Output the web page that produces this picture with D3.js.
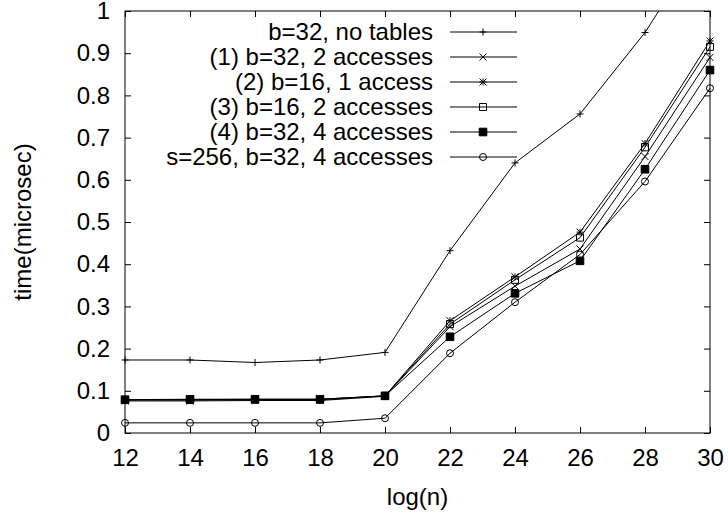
<!DOCTYPE html>
<html>
<head>
<meta charset="utf-8">
<script src="https://cdn.jsdelivr.net/npm/d3@7"></script>
<style>
  body { margin: 0; background: #fff; }
  svg text { font-family: "Liberation Sans", Arial, Helvetica, sans-serif; fill: #000; }
</style>
</head>
<body>
<svg id="chart" width="728" height="517"></svg>
<script>
// log(n) values on the x axis
const logN = [12, 14, 16, 18, 20, 22, 24, 26, 28, 30];

// time in microseconds, one array per curve
const noTables   = [0.173, 0.173, 0.167, 0.173, 0.191, 0.432, 0.640, 0.756, 0.949, 1.19];
const b32acc2    = [0.076, 0.076, 0.077, 0.077, 0.087, 0.252, 0.348, 0.436, 0.655, 0.890];
const b16acc1    = [0.079, 0.079, 0.080, 0.080, 0.088, 0.266, 0.370, 0.476, 0.686, 0.929];
const b16acc2    = [0.078, 0.078, 0.079, 0.079, 0.088, 0.258, 0.363, 0.463, 0.677, 0.915];
const b32acc4    = [0.079, 0.080, 0.080, 0.080, 0.088, 0.228, 0.331, 0.408, 0.625, 0.860];
const s256acc4   = [0.024, 0.024, 0.024, 0.024, 0.035, 0.189, 0.310, 0.423, 0.596, 0.817];

const seriesNames = [
  "b=32, no tables",
  "(1) b=32, 2 accesses",
  "(2) b=16, 1 access",
  "(3) b=16, 2 accesses",
  "(4) b=32, 4 accesses",
  "s=256, b=32, 4 accesses"
];
const seriesValues = [noTables, b32acc2, b16acc1, b16acc2, b32acc4, s256acc4];
const seriesMarks = ["plus", "cross", "star", "square", "filledSquare", "circle"];

const xTicks = [12, 14, 16, 18, 20, 22, 24, 26, 28, 30];
const yTicks = [0, 0.1, 0.2, 0.3, 0.4, 0.5, 0.6, 0.7, 0.8, 0.9, 1];

const plotLeft = 125, plotRight = 710, plotTop = 11, plotBottom = 433;
const fontSize = 24;

const x = d3.scaleLinear().domain([12, 30]).range([plotLeft, plotRight]);
const y = d3.scaleLinear().domain([0, 1]).range([plotBottom, plotTop]);

const svg = d3.select("#chart");

// gnuplot style point shapes, r is the half size
function markPath(type, r) {
  const p = d3.path();
  if (type === "plus" || type === "star") {
    p.moveTo(-r, 0); p.lineTo(r, 0);
    p.moveTo(0, -r); p.lineTo(0, r);
  }
  if (type === "cross" || type === "star") {
    p.moveTo(-r, -r); p.lineTo(r, r);
    p.moveTo(-r, r); p.lineTo(r, -r);
  }
  if (type === "square" || type === "filledSquare") {
    p.rect(-r, -r, 2 * r, 2 * r);
  }
  if (type === "circle") {
    p.moveTo(r, 0);
    p.arc(0, 0, r, 0, 2 * Math.PI);
  }
  return p.toString();
}

function drawMark(g, type) {
  g.append("path")
    .attr("d", markPath(type, type === "filledSquare" ? 3.8 : 3.5))
    .attr("fill", type === "filledSquare" ? "#000" : "none")
    .attr("stroke", "#000")
    .attr("stroke-width", 1);
}

// axes: ticks point inward on all four sides
const tickFont = g => g.selectAll("text").attr("font-size", fontSize).attr("font-family", null);

svg.append("g")
  .attr("transform", `translate(0,${plotBottom})`)
  .call(d3.axisBottom(x).tickValues(xTicks).tickSize(-6).tickPadding(16).tickFormat(d3.format("d")))
  .call(g => g.select(".domain").remove())
  .call(tickFont);

svg.append("g")
  .attr("transform", `translate(0,${plotTop})`)
  .call(d3.axisTop(x).tickValues(xTicks).tickSize(-6).tickFormat(""))
  .call(g => g.select(".domain").remove());

svg.append("g")
  .attr("transform", `translate(${plotLeft},0)`)
  .call(d3.axisLeft(y).tickValues(yTicks).tickSize(-6).tickPadding(15).tickFormat(d => d3.format("~g")(d)))
  .call(g => g.select(".domain").remove())
  .call(tickFont);

svg.append("g")
  .attr("transform", `translate(${plotRight},0)`)
  .call(d3.axisRight(y).tickValues(yTicks).tickSize(-6).tickFormat(""))
  .call(g => g.select(".domain").remove());

svg.selectAll(".tick line").attr("stroke", "#000");

// frame
svg.append("rect")
  .attr("x", plotLeft).attr("y", plotTop)
  .attr("width", plotRight - plotLeft).attr("height", plotBottom - plotTop)
  .attr("fill", "none").attr("stroke", "#000").attr("stroke-width", 1);

// axis titles
svg.append("text")
  .attr("x", (plotLeft + plotRight) / 2).attr("y", 505)
  .attr("text-anchor", "middle").attr("font-size", fontSize)
  .text("log(n)");

svg.append("text")
  .attr("transform", `translate(31,${(plotTop + plotBottom) / 2}) rotate(-90)`)
  .attr("text-anchor", "middle").attr("font-size", fontSize)
  .text("time(microsec)");

// clip the curves to the plot box
svg.append("clipPath").attr("id", "plot-clip")
  .append("rect")
  .attr("x", plotLeft - 5).attr("y", plotTop)
  .attr("width", plotRight - plotLeft + 10).attr("height", plotBottom - plotTop);

const line = d3.line().x(d => x(d[0])).y(d => y(d[1]));

const curves = svg.append("g").attr("clip-path", "url(#plot-clip)")
  .selectAll("g")
  .data(seriesValues)
  .join("g");

curves.append("path")
  .attr("d", vals => line(vals.map((v, i) => [logN[i], v])))
  .attr("fill", "none")
  .attr("stroke", "#000")
  .attr("stroke-width", 1);

curves.each(function (vals, k) {
  d3.select(this).selectAll("g.pt")
    .data(vals.map((v, i) => [logN[i], v]).filter(d => d[1] <= 1))
    .join("g")
    .attr("class", "pt")
    .attr("transform", d => `translate(${x(d[0])},${y(d[1])})`)
    .each(function () { drawMark(d3.select(this), seriesMarks[k]); });
});

// legend, top left of the box
const legend = svg.append("g")
  .selectAll("g")
  .data(seriesNames)
  .join("g")
  .attr("transform", (d, i) => `translate(0,${32 + i * 25})`);

legend.append("text")
  .attr("x", 433).attr("dy", "0.35em")
  .attr("text-anchor", "end").attr("font-size", fontSize)
  .text(d => d);

legend.append("line")
  .attr("x1", 450).attr("x2", 517)
  .attr("stroke", "#000").attr("stroke-width", 1);

legend.append("g")
  .attr("transform", "translate(483,0)")
  .each(function (d, i) { drawMark(d3.select(this), seriesMarks[i]); });
</script>
</body>
</html>
